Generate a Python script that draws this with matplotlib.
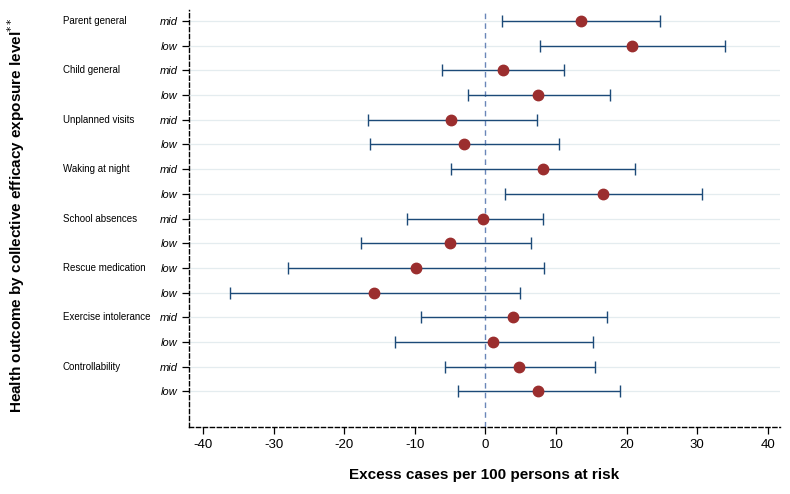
import matplotlib.pyplot as plt
import numpy as np

outcomes = ["Parent general", "Child general", "Unplanned visits", "Waking at night",
            "School absences", "Rescue medication", "Exercise intolerance", "Controllability"]
levels = ["mid", "low", "mid", "low", "mid", "low", "mid", "low",
          "mid", "low", "low", "low", "mid", "low", "mid", "low"]
estimate = [13.5, 20.8, 2.5, 7.4, -4.8, -3.0, 8.1, 16.7,
            -0.4, -5.0, -9.8, -15.7, 3.9, 1.1, 4.8, 7.5]
lower = [2.4, 7.8, -6.1, -2.5, -16.6, -16.3, -4.9, 2.8,
         -11.1, -17.6, -27.9, -36.1, -9.1, -12.8, -5.7, -3.9]
upper = [24.7, 34.0, 11.2, 17.7, 7.3, 10.4, 21.2, 30.7,
         8.1, 6.5, 8.3, 4.9, 17.2, 15.2, 15.5, 19.1]
xticks = [-40, -30, -20, -10, 0, 10, 20, 30, 40]

est = np.array(estimate)
lo = np.array(lower)
hi = np.array(upper)
y = np.arange(1, len(est) + 1)

plt.rcParams['font.family'] = ['Liberation Sans', 'DejaVu Sans']

fig = plt.figure(figsize=(7.9, 4.94), dpi=100)
ax = fig.add_axes([0.239, 0.135, 0.748, 0.845])

for yy in y:
    ax.axhline(yy, color="#e4ecef", lw=0.9, zorder=0)
ax.axvline(0, color="#6a86b8", lw=1.0, ls=(0, (4, 3)), zorder=1)

ax.errorbar(est, y, xerr=[est - lo, hi - est], fmt="none", ecolor="#1c4a78",
            elinewidth=1.0, capsize=4, capthick=1.0, zorder=2)
ax.plot(est, y, "o", color="#9b2e2e", ms=7.5, zorder=3)

ax.set_xlim(-42, 41.7)
ax.set_ylim(17.45, 0.55)
ax.set_xticks(xticks)
ax.set_xticklabels([str(t) for t in xticks], fontsize=9.5)
ax.set_yticks(y)
ax.set_yticklabels(levels, fontsize=8, style="italic")
ax.tick_params(axis="both", direction="out", length=5, width=0.9, color="black")
ax.tick_params(axis="y", pad=3)

for s in ["top", "right"]:
    ax.spines[s].set_visible(False)
for s in ["left", "bottom"]:
    ax.spines[s].set_linestyle((0, (3, 2)))
    ax.spines[s].set_linewidth(1.0)

for i, name in enumerate(outcomes):
    ax.text(-0.213, 2 * i + 1, name, transform=ax.get_yaxis_transform(),
            fontsize=7, ha="left", va="center")

ax.set_xlabel("Excess cases per 100 persons at risk", fontsize=11, fontweight="bold", labelpad=12)
fig.text(0.02, 0.565, "Health outcome by collective efficacy exposure level$^{**}$",
         rotation=90, fontsize=11, fontweight="bold", ha="center", va="center")

fig.savefig("out.png", dpi=100)
